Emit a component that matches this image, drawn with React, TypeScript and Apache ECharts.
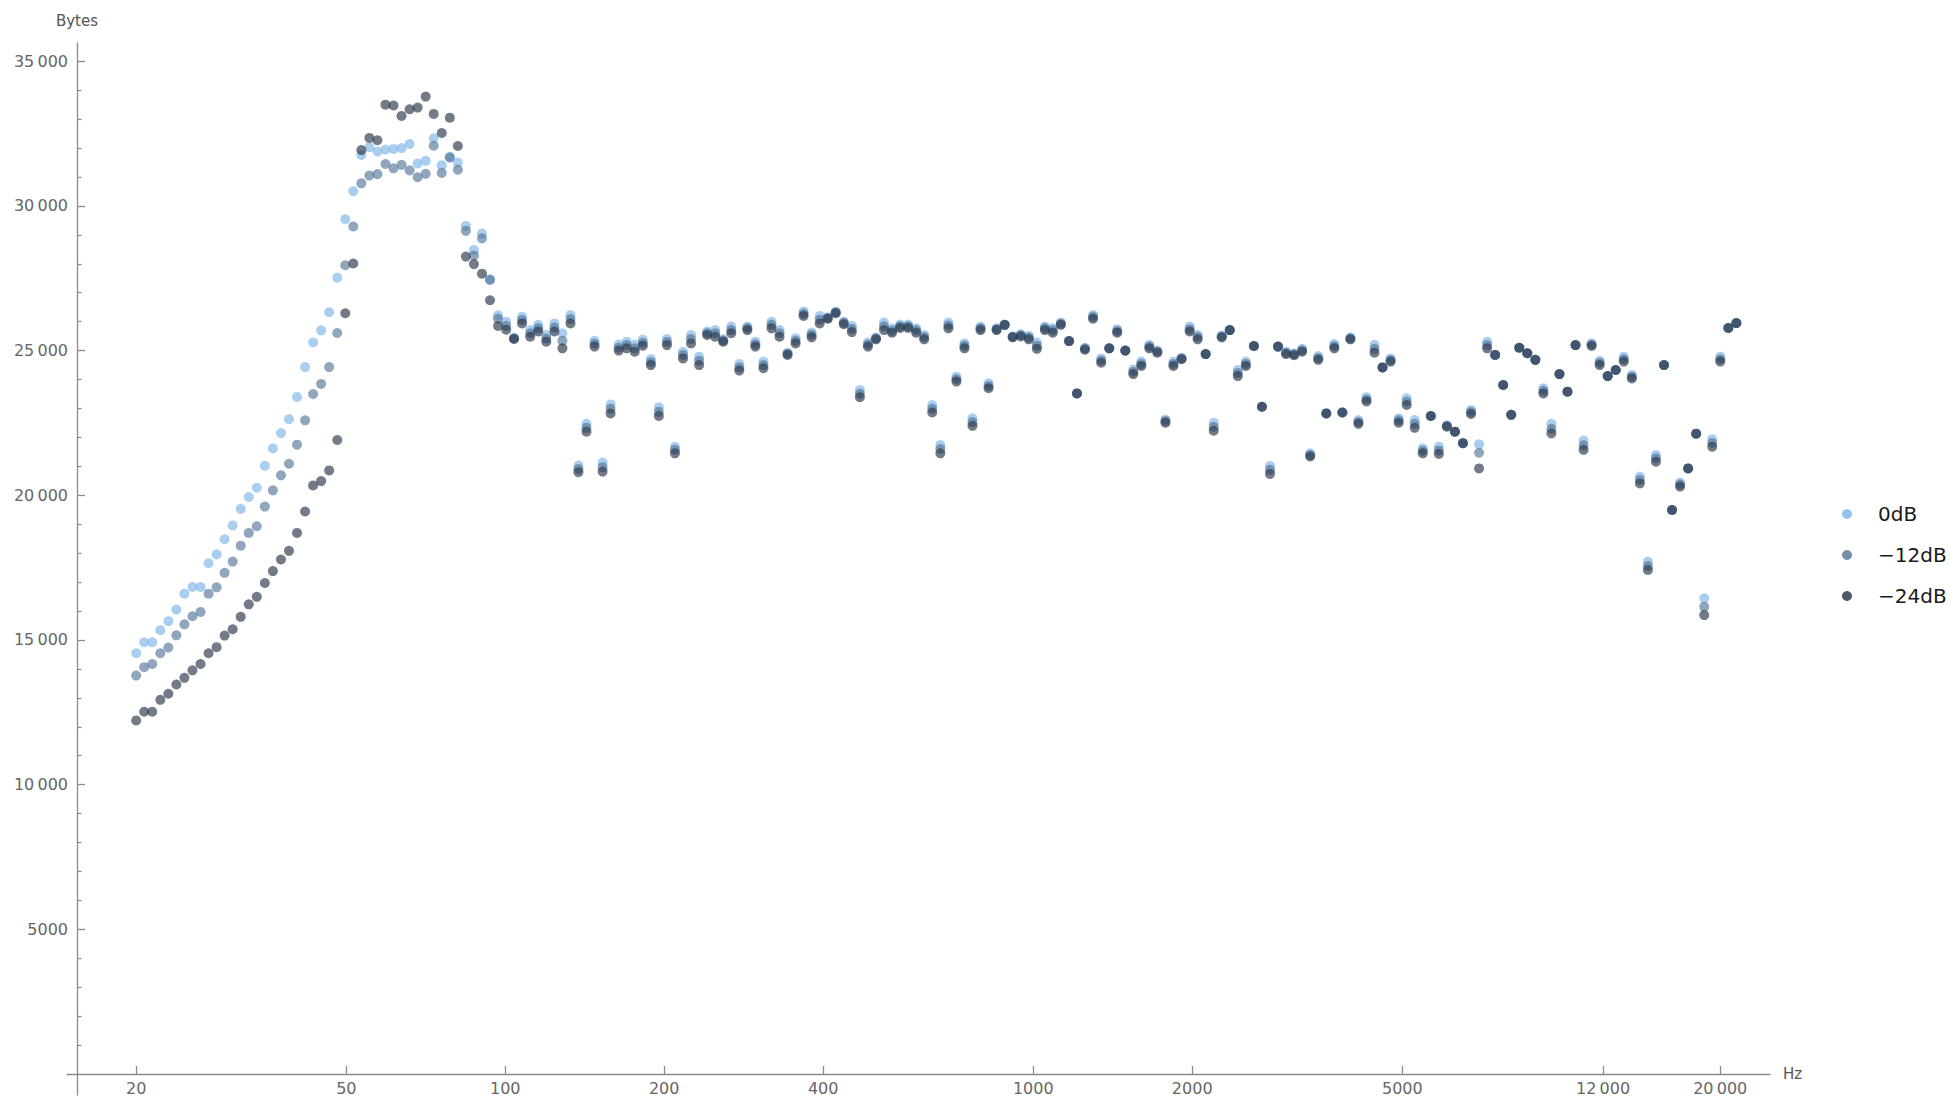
import React, { useEffect, useRef } from "react";
import * as echarts from "echarts";

// Analysis band centre frequencies (Hz), log-spaced from 20 Hz up to ~21.5 kHz
const freqHz = [
  20.0, 20.71, 21.45, 22.22, 23.01, 23.83, 24.68, 25.56, 26.48, 27.42,
  28.4, 29.41, 30.46, 31.55, 32.68, 33.84, 35.05, 36.3, 37.6, 38.94,
  40.33, 41.77, 43.26, 44.8, 46.4, 48.06, 49.77, 51.55, 53.39, 55.29,
  57.27, 59.31, 61.43, 63.62, 65.89, 68.24, 70.68, 73.2, 75.81, 78.52,
  81.32, 84.22, 87.23, 90.34, 93.57, 96.91, 100.4, 103.9, 107.6, 111.5,
  115.5, 119.6, 123.9, 128.3, 132.9, 137.6, 142.5, 147.6, 152.9, 158.3,
  164.0, 169.8, 175.9, 182.2, 188.7, 195.4, 202.4, 209.6, 217.1, 224.8,
  232.9, 241.2, 249.8, 258.7, 267.9, 277.5, 287.4, 297.6, 308.3, 319.3,
  330.7, 342.5, 354.7, 367.3, 380.4, 394.0, 408.1, 422.6, 437.7, 453.3,
  469.5, 486.3, 503.6, 521.6, 540.2, 559.5, 579.4, 600.1, 621.5, 643.7,
  666.9, 690.7, 715.3, 740.8, 767.3, 794.6, 823.0, 852.4, 882.8, 914.3,
  946.9, 980.7, 1016, 1052, 1089, 1128, 1169, 1210, 1253, 1298,
  1345, 1393, 1442, 1494, 1547, 1602, 1659, 1718, 1780, 1843,
  1909, 1978, 2048, 2121, 2197, 2275, 2356, 2440, 2527, 2618,
  2711, 2808, 2908, 3012, 3119, 3230, 3346, 3465, 3589, 3717,
  3850, 3987, 4129, 4277, 4429, 4587, 4751, 4921, 5096, 5278,
  5467, 5662, 5864, 6073, 6290, 6514, 6747, 6987, 7237, 7495,
  7763, 8040, 8327, 8624, 8932, 9250, 9580, 9922, 10276, 10643,
  11023, 11416, 11823, 12245, 12682, 13135, 13604, 14089, 14592, 15113,
  15654, 16212, 16790, 17390, 18010, 18653, 19319, 20008, 20722, 21462,
];

// Encoded size per band at 0 dB input level
const bytes0dB = [
  14540, 14920, 14920, 15340, 15650, 16050, 16600, 16830, 16830, 17650,
  17960, 18480, 18960, 19530, 19940, 20260, 21020, 21620, 22150, 22630,
  23400, 24430, 25280, 25700, 26330, 27520, 29540, 30510, 31760, 32030,
  31880, 31950, 31970, 32000, 32140, 31470, 31560, 32340, 31410, 31700,
  31500, 29310, 28480, 29050, 27470, 26220, 26000, 25450, 26170, 25710,
  25890, 25540, 25940, 25600, 26230, 21030, 22470, 25340, 21130, 23140,
  25210, 25310, 25200, 25380, 24710, 23040, 25400, 21680, 24960, 25540,
  24790, 25660, 25710, 25390, 25830, 24540, 25830, 25310, 24620, 26000,
  25710, 24930, 25430, 26350, 25630, 26200, 26150, 26350, 26000, 25850,
  23640, 25280, 25460, 25970, 25760, 25900, 25900, 25770, 25540, 23120,
  21740, 25970, 24100, 25250, 22660, 25830, 23870, 25770, 25890, 25490,
  25570, 25510, 25280, 25830, 25770, 25970, 25330, 23520, 25100, 26230,
  24730, 25080, 25740, 25000, 24350, 24620, 25200, 25000, 22620, 24620,
  24750, 25830, 25540, 24880, 22510, 25520, 25710, 24330, 24620, 25160,
  23060, 21010, 25140, 24960, 24900, 25060, 21450, 24810, 22830, 25230,
  22860, 25460, 22600, 23390, 25200, 24420, 24730, 22660, 23350, 22600,
  21620, 22740, 21680, 22420, 22200, 21800, 22950, 21760, 25310, 24850,
  23810, 22780, 25100, 24910, 24680, 23700, 22470, 24190, 23580, 25190,
  21890, 25250, 24650, 24120, 24330, 24790, 24160, 20650, 17710, 21390,
  24500, 19490, 20440, 20930, 22130, 16440, 21940, 24790, 25780, 25950,
];

// Encoded size per band at -12 dB input level
const bytesMinus12dB = [
  13770, 14060, 14170, 14540, 14740, 15160, 15540, 15820, 15970, 16600,
  16820, 17320, 17710, 18260, 18700, 18930, 19610, 20170, 20690, 21090,
  21750, 22590, 23500, 23850, 24430, 25610, 27950, 29290, 30780, 31050,
  31100, 31450, 31300, 31420, 31230, 30990, 31110, 32080, 31140, 31670,
  31250, 29140, 28290, 28880, 27440, 26100, 25860, 25420, 26060, 25600,
  25770, 25420, 25800, 25340, 26090, 20910, 22330, 25240, 20970, 22990,
  25100, 25190, 25080, 25270, 24600, 22890, 25300, 21570, 24850, 25400,
  24650, 25600, 25600, 25350, 25710, 24420, 25770, 25220, 24500, 25890,
  25600, 24890, 25340, 26270, 25550, 26070, 26130, 26320, 25960, 25750,
  23510, 25210, 25420, 25840, 25690, 25840, 25840, 25700, 25470, 22990,
  21600, 25870, 24010, 25170, 22530, 25770, 23780, 25740, 25890, 25480,
  25530, 25450, 25170, 25770, 25700, 25930, 25330, 23520, 25070, 26170,
  24660, 25080, 25680, 25000, 24270, 24540, 25140, 24970, 22570, 24540,
  24730, 25740, 25470, 24880, 22370, 25490, 25710, 24230, 24540, 25160,
  23060, 20880, 25140, 24920, 24870, 25010, 21390, 24740, 22830, 25150,
  22860, 25420, 22530, 23310, 25060, 24420, 24670, 22590, 23240, 22470,
  21540, 22740, 21550, 22400, 22200, 21800, 22880, 21470, 25190, 24850,
  23810, 22780, 25100, 24910, 24680, 23610, 22300, 24190, 23580, 25190,
  21730, 25210, 24580, 24120, 24330, 24700, 24100, 20530, 17560, 21280,
  24500, 19490, 20370, 20930, 22130, 16150, 21810, 24700, 25780, 25950,
];

// Encoded size per band at -24 dB input level
const bytesMinus24dB = [
  12220, 12520, 12520, 12930, 13140, 13460, 13690, 13950, 14170, 14540,
  14750, 15150, 15370, 15800, 16230, 16490, 16970, 17380, 17780, 18080,
  18700, 19440, 20340, 20490, 20860, 21910, 26290, 28010, 31930, 32350,
  32270, 33500, 33470, 33110, 33340, 33400, 33780, 33180, 32520, 33050,
  32070, 28250, 27990, 27660, 26740, 25850, 25720, 25400, 25940, 25480,
  25660, 25310, 25660, 25080, 25940, 20800, 22200, 25140, 20820, 22830,
  25000, 25080, 24960, 25170, 24500, 22740, 25190, 21450, 24730, 25250,
  24500, 25540, 25480, 25310, 25600, 24310, 25710, 25140, 24390, 25770,
  25480, 24850, 25250, 26200, 25460, 25940, 26100, 26290, 25910, 25640,
  23390, 25140, 25390, 25710, 25620, 25780, 25780, 25620, 25390, 22860,
  21450, 25770, 23930, 25080, 22400, 25710, 23700, 25710, 25890, 25460,
  25490, 25390, 25060, 25710, 25620, 25890, 25330, 23520, 25030, 26100,
  24580, 25080, 25620, 25000, 24190, 24470, 25080, 24930, 22510, 24470,
  24700, 25660, 25390, 24880, 22230, 25460, 25710, 24120, 24470, 25160,
  23060, 20740, 25140, 24880, 24840, 24960, 21340, 24680, 22830, 25080,
  22860, 25390, 22470, 23240, 24930, 24420, 24620, 22510, 23120, 22330,
  21450, 22740, 21430, 22370, 22200, 21800, 22810, 20930, 25080, 24850,
  23810, 22780, 25100, 24910, 24680, 23520, 22140, 24190, 23580, 25190,
  21570, 25160, 24500, 24120, 24330, 24620, 24040, 20410, 17420, 21160,
  24500, 19490, 20300, 20930, 22130, 15860, 21680, 24620, 25780, 25950,
];

const seriesNames = ["0dB", "\u221212dB", "\u221224dB"];
const seriesColors = [
  "rgba(125,180,230,0.82)",
  "rgba(82,115,150,0.8)",
  "rgba(40,54,72,0.82)",
];

// Axis ticks
const xTickHz = [20, 50, 100, 200, 400, 1000, 2000, 5000, 12000, 20000];
const yTickBytes = [5000, 10000, 15000, 20000, 25000, 30000, 35000];
const yMinorBytes = [
  1000, 2000, 3000, 4000, 6000, 7000, 8000, 9000, 11000, 12000, 13000, 14000,
  16000, 17000, 18000, 19000, 21000, 22000, 23000, 24000, 26000, 27000, 28000,
  29000, 31000, 32000, 33000, 34000,
];

// Axis extents (the axes run a little past the point where they cross)
const X_MIN_HZ = 14.79;
const X_MAX_HZ = 24852;
const Y_MIN = -726;
const Y_MAX = 35631;

const GRID = { left: 67, right: 180, top: 43, bottom: 7 };
const X_AXIS_RAISE = -21; // x axis sits on Bytes = 0, above the grid's bottom edge
const Y_AXIS_SHIFT = -10; // y axis sits a little inside the grid's left edge

const FONT = "'DejaVu Sans', sans-serif";
const AXIS_GRAY = "#8a8a8a";
const LABEL_GRAY = "#666666";

// Legend placement
const LEGEND_DOT_X = 1847;
const LEGEND_TEXT_X = 1878;
const LEGEND_TOP_Y = 514;
const LEGEND_ROW = 41;

function groupDigits(n: number): string {
  if (n >= 10000) {
    const thousands = Math.floor(n / 1000);
    const rest = String(n % 1000).padStart(3, "0");
    return `${thousands}\u2009${rest}`;
  }
  return String(n);
}

function buildOption(): echarts.EChartsOption {
  const seriesValues = [bytes0dB, bytesMinus12dB, bytesMinus24dB];
  const legendItems: any[] = [];
  seriesNames.forEach((name, i) => {
    const y = LEGEND_TOP_Y + i * LEGEND_ROW;
    legendItems.push({
      type: "circle",
      shape: { cx: LEGEND_DOT_X, cy: y, r: 5 },
      style: { fill: seriesColors[i] },
      silent: true,
    });
    legendItems.push({
      type: "text",
      x: LEGEND_TEXT_X,
      y,
      style: {
        text: name,
        fill: "#1a1a1a",
        font: `20px ${FONT}`,
        textAlign: "left",
        textVerticalAlign: "middle",
      },
      silent: true,
    });
  });

  return {
    animation: false,
    backgroundColor: "#ffffff",
    tooltip: { show: false },
    grid: { ...GRID, containLabel: false, outerBoundsMode: "none" } as any,
    xAxis: [
      {
        type: "log",
        logBase: 10,
        min: X_MIN_HZ,
        max: X_MAX_HZ,
        position: "bottom",
        offset: X_AXIS_RAISE,
        name: "Hz",
        nameLocation: "end",
        nameGap: 13,
        nameTextStyle: { fontFamily: FONT, fontSize: 15, color: "#555555" },
        axisLine: {
          show: true,
          onZero: false,
          lineStyle: { color: AXIS_GRAY, width: 1.3 },
        },
        axisTick: { show: false },
        axisLabel: { show: false },
        splitLine: { show: false },
        minorTick: { show: false },
        minorSplitLine: { show: false },
      },
      {
        // tick/label axis in log10 space, laid over the log axis above
        type: "value",
        min: Math.log10(X_MIN_HZ),
        max: Math.log10(X_MAX_HZ),
        position: "bottom",
        offset: X_AXIS_RAISE,
        axisLine: { show: false, onZero: false },
        axisTick: {
          show: true,
          inside: true,
          length: 8,
          customValues: xTickHz.map((v) => Math.log10(v)),
          lineStyle: { color: AXIS_GRAY, width: 1.3 },
        },
        axisLabel: {
          show: true,
          customValues: xTickHz.map((v) => Math.log10(v)),
          formatter: (v: number) => groupDigits(Math.round(Math.pow(10, v))),
          margin: 6,
          fontFamily: FONT,
          fontSize: 16,
          color: LABEL_GRAY,
        },
        splitLine: { show: false },
      },
    ],
    yAxis: [
      {
        type: "value",
        min: Y_MIN,
        max: Y_MAX,
        position: "left",
        offset: Y_AXIS_SHIFT,
        name: "Bytes",
        nameLocation: "end",
        nameGap: 15,
        nameTextStyle: { fontFamily: FONT, fontSize: 15, color: "#555555" },
        axisLine: {
          show: true,
          onZero: false,
          lineStyle: { color: AXIS_GRAY, width: 1.3 },
        },
        axisTick: {
          show: true,
          inside: true,
          length: 8,
          customValues: yTickBytes,
          lineStyle: { color: AXIS_GRAY, width: 1.3 },
        },
        axisLabel: {
          show: true,
          customValues: yTickBytes,
          formatter: (v: number) => groupDigits(v),
          margin: 9,
          fontFamily: FONT,
          fontSize: 16,
          color: LABEL_GRAY,
        },
        splitLine: { show: false },
      },
      {
        // minor ticks every 1000 bytes
        type: "value",
        min: Y_MIN,
        max: Y_MAX,
        position: "left",
        offset: Y_AXIS_SHIFT,
        axisLine: { show: false, onZero: false },
        axisTick: {
          show: true,
          inside: true,
          length: 4.5,
          customValues: yMinorBytes,
          lineStyle: { color: AXIS_GRAY, width: 1.2 },
        },
        axisLabel: { show: false },
        splitLine: { show: false },
      },
    ],
    graphic: legendItems,
    series: seriesNames.map((name, s) => ({
      type: "scatter",
      name,
      xAxisIndex: 0,
      yAxisIndex: 0,
      symbol: "circle",
      symbolSize: 10,
      silent: true,
      itemStyle: { color: seriesColors[s] },
      emphasis: { disabled: true },
      data: freqHz.map((f, i) => [f, seriesValues[s][i]]),
    })),
  };
}

export default function App() {
  const ref = useRef<HTMLDivElement>(null);

  useEffect(() => {
    // the chart fills the page edge to edge
    document.body.style.margin = "0";
    document.body.style.overflow = "hidden";
    if (!ref.current) return;
    const chart = echarts.init(ref.current, undefined, { renderer: "svg" });
    chart.setOption(buildOption());
    return () => chart.dispose();
  }, []);

  return <div ref={ref} style={{ width: 1950, height: 1102, background: "#fff" }} />;
}
